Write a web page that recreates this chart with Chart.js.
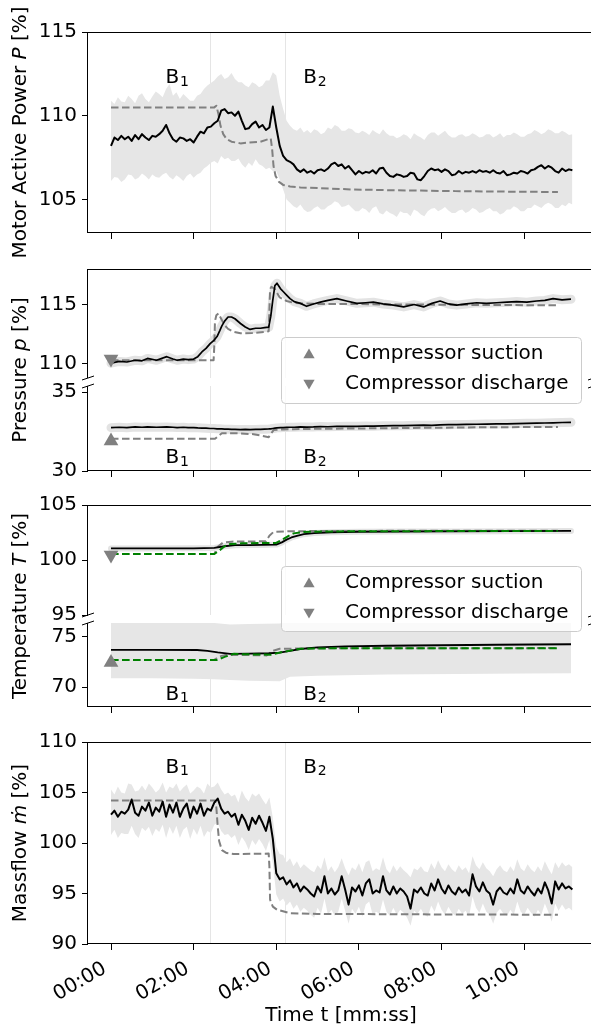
<!DOCTYPE html>
<html>
<head>
<meta charset="utf-8">
<title>Compressor step response</title>
<script src="https://cdn.jsdelivr.net/npm/chart.js@4.4.0/dist/chart.umd.min.js"></script>
<style>
  html, body { margin: 0; padding: 0; background: #fff; overflow: hidden; }
  #figure { position: relative; width: 600px; height: 1029px; background: #fff; }
  #figure canvas { position: absolute; left: 0; top: 0; }
</style>
</head>
<body>
<div id="figure"></div>
<script>
const FONT = '"DejaVu Sans", "Liberation Sans", sans-serif';
const PAGE_W = 600, PAGE_H = 1029;

// shared time axis (seconds)
const xMin = -33.4, xMax = 701.4;
const timeTicks = [0, 120, 240, 360, 480, 600];
const phaseBounds = [144, 252];
const phaseNames = ['1', '2'];
const phaseLabelT = [79, 279];

// motor active power, measured every 5 s
const powerStep = 5;
const powerMeas = [
  108.2, 108.7, 108.55, 108.8, 108.6, 108.75, 108.5, 108.85, 108.6, 108.9,
  108.7, 108.55, 108.8, 108.75, 108.9, 109.1, 109.45, 108.95, 108.6, 108.45,
  108.7, 108.65, 108.5, 108.6, 108.4, 108.75, 109.05, 108.95, 109.3, 109.35,
  109.55, 109.7, 110.3, 110.4, 110.15, 110.2, 110.0, 110.25, 109.7, 109.2,
  109.25, 109.5, 109.65, 109.3, 109.45, 109.15, 109.3, 110.55, 109.3, 108.2,
  107.6, 107.35, 107.25, 107.1, 106.8, 106.65, 106.8, 106.6, 106.7, 106.55,
  106.75, 106.8, 106.7, 106.85, 107.1, 107.2, 107.0, 107.1, 106.85, 107.0,
  106.75, 106.5, 106.7, 106.55, 106.65, 106.6, 106.75, 106.55, 106.85, 106.9,
  106.6, 106.4, 106.35, 106.5, 106.45, 106.35, 106.4, 106.6, 106.55, 106.2,
  106.15, 106.4, 106.7, 106.85, 106.75, 106.8, 106.65, 106.8, 106.7, 106.45,
  106.5, 106.7, 106.55, 106.65, 106.6, 106.7, 106.6, 106.75, 106.65, 106.7,
  106.6, 106.75, 106.6, 106.55, 106.7, 106.45, 106.5, 106.6, 106.55, 106.7,
  106.65, 106.55, 106.75, 106.8, 106.95, 107.05, 106.85, 107.0, 106.9, 106.7,
  106.6, 106.85, 106.7, 106.8, 106.75
];
// spread of the power signal, same 5 s grid
const powerBandHi = [
  110.9, 110.7, 111.1, 110.85, 110.8, 111.2, 111.0, 110.75, 111.2, 111.35,
  111.0, 110.8, 111.15, 111.45, 111.3, 111.1, 111.6, 111.9, 111.2, 111.4,
  111.0, 111.3, 111.1, 110.9, 110.9, 111.2, 111.3, 111.6, 111.8, 111.95,
  112.1, 112.35, 112.5, 112.2, 112.3, 112.55, 112.2, 112.0, 112.0, 111.8,
  111.7, 112.0, 111.9, 111.7, 111.8, 112.1, 112.1, 112.6, 112.4, 111.2,
  110.4, 109.7, 109.4, 109.2, 109.1, 109.3, 109.0, 109.15, 108.95, 109.2,
  109.1, 108.9, 109.0, 109.3, 109.2, 109.45, 109.35, 109.1, 109.1, 109.25,
  109.2, 109.0, 108.95, 109.1, 109.0, 108.85, 109.15, 109.0, 108.9, 109.2,
  108.95, 108.8, 108.8, 108.65, 108.75, 108.9, 108.8, 108.6, 108.95, 108.8,
  108.7, 108.55, 108.85, 109.0, 109.0, 108.8, 108.95, 109.1, 108.85, 108.7,
  108.7, 108.85, 108.9, 108.75, 108.8, 108.95, 108.85, 108.7, 108.75, 108.9,
  108.9, 108.7, 108.8, 108.95, 108.7, 108.85, 108.85, 109.0, 108.9, 108.75,
  108.75, 108.9, 108.95, 109.15, 109.05, 108.9, 109.0, 109.2, 109.1, 108.95,
  108.95, 109.1, 109.0, 108.85, 108.9
];
const powerBandLo = [
  106.1, 106.35, 106.3, 106.05, 106.2, 106.5, 106.45, 106.2, 106.3, 106.55,
  106.4, 106.2, 106.5, 106.35, 106.3, 106.5, 106.6, 106.35, 106.2, 106.45,
  106.3, 106.1, 106.4, 106.55, 106.3, 106.5, 106.6, 106.85, 107.0, 107.2,
  107.3, 107.15, 107.6, 107.4, 107.5, 107.3, 107.3, 107.45, 107.1, 106.9,
  107.2, 107.0, 107.4, 107.1, 107.0, 106.8, 106.9, 106.7, 106.7, 106.2,
  105.6, 105.0, 104.8, 104.6, 104.5, 104.7, 104.4, 104.25, 104.3, 104.5,
  104.6, 104.4, 104.4, 104.6, 104.7, 104.9, 104.8, 104.55, 104.6, 104.7,
  104.5, 104.3, 104.3, 104.5, 104.4, 104.2, 104.5, 104.6, 104.2, 104.1,
  104.35, 104.2, 104.1, 103.95, 104.3, 104.2, 104.2, 104.0, 104.4, 104.3,
  104.1, 104.0, 104.3, 104.45, 104.5, 104.3, 104.4, 104.55, 104.35, 104.2,
  104.2, 104.35, 104.4, 104.2, 104.3, 104.5, 104.4, 104.2, 104.25, 104.4,
  104.5, 104.3, 104.3, 104.1, 104.2, 104.4, 104.4, 104.6, 104.5, 104.3,
  104.3, 104.5, 104.5, 104.7, 104.6, 104.5, 104.7, 104.8, 104.7, 104.5,
  104.5, 104.7, 104.6, 104.8, 104.7
];
const powerModel = [
  [0, 110.5], [150, 110.5], [153, 110.6], [156, 110.1], [159, 109.4], [163, 108.9],
  [168, 108.6], [175, 108.45], [188, 108.35], [200, 108.4], [217, 108.45], [232, 108.65],
  [234, 108.0], [236, 107.0], [239, 106.4], [244, 106.05], [250, 105.87], [260, 105.78],
  [275, 105.72], [300, 105.68], [350, 105.6], [400, 105.56], [450, 105.53], [500, 105.5],
  [550, 105.48], [600, 105.46], [649, 105.45]
];

// compressor pressures
const presTime = [
  0, 12, 23, 35, 45, 53, 66, 81, 90, 96,
  105, 112, 120, 126, 132, 138, 144, 149, 154, 158,
  161, 165, 170, 175, 180, 188, 195, 202, 210, 217,
  223, 229, 232, 235, 238, 241, 246, 250, 255, 260,
  266, 275, 284, 294, 304, 315, 328, 342, 357, 370,
  381, 395, 410, 425, 440, 454, 466, 478, 490, 502,
  516, 531, 545, 560, 575, 589, 604, 618, 630, 642,
  655, 668
];
const presDischarge = [
  110.05, 110.2, 110.15, 110.3, 110.25, 110.45, 110.3, 110.6, 110.4, 110.3,
  110.4, 110.35, 110.4, 110.6, 111.0, 111.3, 111.7, 111.95, 112.3, 112.8,
  113.2, 113.6, 113.95, 113.95, 113.8, 113.4, 113.1, 112.9, 113.0, 113.0,
  113.05, 113.1, 114.0, 115.4, 116.6, 116.8, 116.35, 116.1, 115.8, 115.5,
  115.25, 115.1, 114.85, 115.05, 115.2, 115.35, 115.5, 115.3, 115.1, 115.15,
  115.2, 115.05, 114.95, 114.8, 115.0, 114.8, 115.1, 115.3, 115.05, 114.95,
  115.05, 115.15, 115.1, 115.15, 115.2, 115.25, 115.2, 115.3, 115.35, 115.5,
  115.4, 115.45
];
const presSuction = [
  32.75, 32.78, 32.75, 32.8, 32.78, 32.8, 32.78, 32.8, 32.78, 32.76,
  32.78, 32.75, 32.76, 32.74, 32.73, 32.72, 32.7, 32.7, 32.68, 32.68,
  32.67, 32.66, 32.66, 32.65, 32.64, 32.63, 32.64, 32.63, 32.64, 32.65,
  32.66, 32.67, 32.68, 32.7, 32.72, 32.74, 32.75, 32.76, 32.77, 32.78,
  32.78, 32.8, 32.79, 32.8, 32.82, 32.81, 32.83, 32.84, 32.84, 32.86,
  32.85, 32.87, 32.88, 32.88, 32.9, 32.91, 32.9, 32.93, 32.94, 32.95,
  32.96, 32.97, 32.98, 32.99, 33.0, 33.01, 33.03, 33.04, 33.05, 33.06,
  33.08, 33.09
];
const presDischargeModel = [
  [0, 110.3], [149, 110.3], [150, 111.5], [151, 113.6], [153, 114.1], [156, 114.25],
  [160, 113.8], [165, 113.25], [170, 112.95], [178, 112.7], [188, 112.57], [205, 112.6],
  [226, 112.7], [229, 112.75], [230, 114.5], [231, 116.3], [233, 116.5], [238, 116.3],
  [245, 115.6], [255, 115.3], [265, 115.15], [275, 115.1], [300, 115.05], [350, 115.05],
  [400, 115.0], [450, 115.0], [500, 114.98], [550, 114.96], [600, 114.95], [649, 114.94]
];
const presSuctionModel = [
  [0, 32.05], [151, 32.05], [161, 32.4], [180, 32.4], [207, 32.34], [229, 32.15],
  [236, 32.6], [250, 32.64], [275, 32.67], [350, 32.7], [450, 32.74], [550, 32.78], [649, 32.8]
];
const presStart = { discharge: 110.4, suction: 31.9 };

// compressor temperatures
const tempDischarge = [
  [0, 101.05], [60, 101.05], [120, 101.06], [150, 101.1], [165, 101.25], [180, 101.35],
  [200, 101.36], [220, 101.37], [240, 101.4], [248, 101.6], [255, 101.85], [262, 102.05],
  [270, 102.2], [280, 102.35], [295, 102.45], [320, 102.52], [360, 102.56], [420, 102.58],
  [500, 102.6], [580, 102.62], [668, 102.64]
];
const tempDischargeModelA = [
  [0, 100.55], [150, 100.55], [155, 101.2], [163, 101.6], [175, 101.67], [225, 101.7],
  [230, 102.2], [236, 102.55], [260, 102.62], [400, 102.65], [649, 102.66]
];
const tempDischargeModelB = [
  [0, 100.55], [150, 100.55], [158, 100.9], [165, 101.25], [173, 101.45], [190, 101.52],
  [240, 101.55], [250, 101.9], [258, 102.2], [265, 102.42], [280, 102.55], [320, 102.6],
  [400, 102.62], [649, 102.64]
];
const tempSuction = [
  [0, 73.69], [60, 73.69], [125, 73.68], [140, 73.6], [155, 73.45], [173, 73.3],
  [200, 73.32], [230, 73.36], [245, 73.42], [260, 73.6], [275, 73.78], [300, 73.95],
  [340, 74.05], [400, 74.1], [480, 74.15], [560, 74.2], [668, 74.25]
];
const tempSuctionModelA = [
  [0, 72.7], [150, 72.7], [158, 73.05], [166, 73.2], [200, 73.18], [226, 73.15],
  [235, 73.6], [245, 73.8], [300, 73.85], [649, 73.87]
];
const tempSuctionModelB = [
  [0, 72.7], [154, 72.7], [165, 73.0], [178, 73.3], [200, 73.25], [232, 73.22],
  [250, 73.5], [275, 73.8], [320, 73.85], [649, 73.85]
];
const tempBandTime = [0, 60, 120, 150, 173, 200, 245, 260, 300, 400, 500, 600, 668];
const tempBandHi = [76.55, 76.55, 76.5, 76.35, 76.2, 76.25, 76.3, 76.5, 76.8, 76.95, 77.0, 77.05, 77.1];
const tempBandLo = [70.9, 70.9, 70.85, 70.8, 70.72, 70.65, 70.6, 71.05, 71.15, 71.25, 71.3, 71.35, 71.38];
const tempStart = { discharge: 100.45, suction: 72.45 };

// mass flow, measured every 5 s
const massStep = 5;
const massMeas = [
  102.8, 103.2, 102.6, 103.1, 102.9, 103.3, 104.3, 103.0, 102.7, 103.6,
  103.2, 104.0, 102.7, 103.5, 103.1, 104.1, 102.6, 103.8, 103.0, 104.0,
  102.6, 103.4, 103.9, 102.5, 103.6, 102.9, 103.9, 102.7, 103.4, 103.2,
  104.0, 104.4, 103.4, 102.9, 103.1, 102.6, 102.9, 101.8, 102.8, 102.2,
  101.3, 102.5, 101.9, 102.7, 102.0, 101.2, 102.6, 100.4, 97.0, 96.4,
  96.6, 95.9, 96.3, 95.6, 96.0, 95.2, 95.7, 95.4, 95.0, 94.7,
  95.7, 95.1, 96.7, 95.0, 95.5, 94.9, 95.3, 96.7, 95.4, 93.9,
  95.6, 95.2, 95.8, 94.8, 96.0, 96.4, 95.0, 95.3, 95.1, 96.7,
  95.3, 94.9, 95.7, 95.0, 95.5, 95.2, 94.7, 93.5, 95.4, 95.1,
  95.6, 95.0, 94.8, 96.0, 95.3, 96.4, 95.5, 95.0, 95.8, 95.2,
  94.9, 95.6, 95.1, 95.4, 94.8, 96.9, 95.7, 95.2, 96.1, 95.3,
  95.0, 93.9, 95.2, 95.6, 95.1, 94.9, 95.5, 95.0, 96.4, 95.3,
  95.0, 95.7, 95.2, 94.8, 95.5, 95.0, 96.1, 95.3, 94.0, 96.2,
  95.4, 96.0, 95.5, 95.7, 95.4
];
const massBandHi = [
  105.3, 104.8, 105.6, 105.0, 104.9, 105.9, 105.8, 105.1, 105.2, 105.7,
  105.2, 105.9, 105.5, 105.0, 105.3, 106.0, 105.0, 105.6, 105.4, 105.9,
  105.1, 105.5, 105.8, 104.9, 105.2, 105.6, 105.4, 104.9, 105.9, 105.5,
  105.6, 106.0, 105.3, 104.8, 105.0, 104.6, 104.8, 104.0, 105.2, 104.5,
  104.1, 104.9, 104.6, 104.9, 104.3, 103.8, 104.5, 102.5, 99.6, 98.9,
  98.8, 98.1, 98.5, 97.7, 98.2, 97.5, 97.9, 97.6, 97.3, 97.1,
  97.8, 97.4, 98.6, 97.2, 97.7, 97.1, 97.6, 98.5, 97.5, 96.8,
  97.6, 97.3, 98.0, 97.1, 98.1, 98.3, 97.2, 97.5, 97.3, 98.6,
  97.4, 97.0, 97.8, 97.2, 97.7, 97.3, 97.0, 96.6, 97.5, 97.3,
  97.7, 97.2, 97.1, 98.0, 97.4, 98.3, 97.6, 97.2, 97.9, 97.4,
  97.1, 97.8, 97.3, 97.6, 97.0, 98.7, 97.8, 97.4, 98.1, 97.5,
  97.2, 96.7, 97.4, 97.8, 97.3, 97.1, 97.7, 97.2, 98.4, 97.5,
  97.2, 97.9, 97.4, 97.1, 97.7, 97.2, 98.2, 97.5, 96.9, 98.1,
  97.5, 98.1, 97.7, 97.9, 97.6
];
const massBandLo = [
  100.8, 101.3, 100.5, 101.0, 100.9, 100.9, 101.7, 100.9, 100.5, 101.5,
  101.2, 101.6, 100.7, 101.4, 101.1, 101.8, 100.5, 101.6, 100.9, 101.7,
  100.5, 101.3, 101.6, 100.4, 101.4, 100.8, 101.7, 100.6, 101.2, 101.0,
  101.8, 102.0, 101.2, 100.8, 100.9, 100.5, 100.8, 99.8, 100.6, 100.1,
  99.3, 100.3, 99.8, 100.4, 99.9, 99.2, 100.3, 98.0, 94.9, 94.2,
  94.5, 93.8, 94.2, 93.5, 93.9, 93.2, 93.6, 93.3, 92.9, 92.6,
  93.6, 93.0, 94.5, 92.9, 93.4, 92.8, 93.2, 94.5, 93.3, 92.0,
  93.5, 93.0, 93.7, 92.7, 93.9, 94.2, 92.9, 93.2, 93.0, 94.4,
  93.2, 92.8, 93.6, 92.9, 93.4, 93.1, 92.6, 91.8, 93.3, 93.0,
  93.5, 92.9, 92.7, 93.8, 93.2, 94.2, 93.4, 92.9, 93.7, 93.1,
  92.8, 93.5, 93.0, 93.3, 92.7, 94.7, 93.6, 93.1, 94.0, 93.2,
  92.9, 92.0, 93.1, 93.5, 93.0, 92.8, 93.4, 92.9, 94.2, 93.2,
  92.9, 93.6, 93.1, 92.7, 93.4, 92.9, 94.0, 93.2, 92.2, 94.0,
  93.3, 93.9, 93.4, 93.6, 93.3
];
const massModel = [
  [0, 104.2], [151, 104.2], [153, 103.5], [155, 101.6], [157, 100.2], [161, 99.3],
  [168, 99.0], [178, 98.9], [229, 98.95], [230, 97.7], [231, 94.4], [235, 93.7],
  [241, 93.4], [260, 93.05], [300, 92.98], [400, 92.95], [500, 92.92], [649, 92.9]
];

// ---- dataset helpers ----
const sampled = (step, vals) => vals.map((v, i) => ({ x: i * step, y: v }));
const zip = (ts, vs) => ts.map((t, i) => ({ x: t, y: vs[i] }));
const pts = arr => arr.map(([x, y]) => ({ x, y }));

const GREY = '#808080';
const solid = (data, color, width, order) => ({
  data, borderColor: color, borderWidth: width, pointRadius: 0, fill: false,
  borderJoinStyle: 'round', order
});
const dashed = (data, color, order) => Object.assign(solid(data, color, 2, order), { borderDash: [7.5, 3.5] });
const halo = (data, width) => Object.assign(solid(data, '#e3e3e3', width, 9), { borderCapStyle: 'round' });
const band = (hi, lo) => [
  { data: hi, borderWidth: 0, pointRadius: 0, backgroundColor: '#e6e6e6', fill: '+1', order: 10 },
  { data: lo, borderWidth: 0, pointRadius: 0, fill: false, order: 10 }
];
const marker = (v, down) => ({
  data: [{ x: 0, y: v }], showLine: false, pointStyle: 'triangle', pointRotation: down ? 180 : 0,
  pointRadius: 8.5, pointBackgroundColor: GREY, pointBorderColor: GREY, pointBorderWidth: 0, order: 0
});

const mmss = v => {
  const m = Math.floor(v / 60), s = v % 60;
  return String(m).padStart(2, '0') + ':' + String(s).padStart(2, '0');
};

// ---- panel layout (page pixels) ----
const panels = [
  {
    key: 'power', top: 32, bottom: 233, yMin: 103, yMax: 115, yTicks: [105, 110, 115],
    spineTop: true, spineBottom: true, xAxisH: 10, xMarks: true, xLabels: false, labelY: 111.95,
    title: [['Motor Active Power ', false], ['P', true], [' [%]', false]], titleFrom: 'power',
    datasets: [
      ...band(sampled(powerStep, powerBandHi), sampled(powerStep, powerBandLo)),
      dashed(pts(powerModel), GREY, 3),
      solid(sampled(powerStep, powerMeas), '#000', 2, 2)
    ]
  },
  {
    key: 'presHi', top: 269, bottom: 378, yMin: 108.8, yMax: 118, yTicks: [110, 115],
    spineTop: true, spineBottom: false, breakBottom: true, xAxisH: 0, xMarks: false, xLabels: false,
    datasets: [
      halo(zip(presTime, presDischarge), 9),
      dashed(pts(presDischargeModel), GREY, 3),
      solid(zip(presTime, presDischarge), '#000', 1.7, 2),
      marker(presStart.discharge, true)
    ]
  },
  {
    key: 'presLo', top: 386, bottom: 471, yMin: 30, yMax: 35.4, yTicks: [30, 35],
    spineTop: false, spineBottom: true, breakTop: true, xAxisH: 10, xMarks: true, xLabels: false, labelY: 30.49,
    title: [['Pressure ', false], ['p', true], [' [%]', false]], titleFrom: 'presHi',
    legend: { top: 337, bottom: 403 },
    datasets: [
      halo(zip(presTime, presSuction), 9),
      dashed(pts(presSuctionModel), GREY, 3),
      solid(zip(presTime, presSuction), '#000', 1.7, 2),
      marker(presStart.suction, false)
    ]
  },
  {
    key: 'tempHi', top: 505, bottom: 615, yMin: 95, yMax: 105, yTicks: [95, 100, 105],
    spineTop: true, spineBottom: false, breakBottom: true, xAxisH: 0, xMarks: false, xLabels: false,
    datasets: [
      halo(pts(tempDischarge), 6),
      dashed(pts(tempDischargeModelA), GREY, 4),
      dashed(pts(tempDischargeModelB), '#008000', 1),
      solid(pts(tempDischarge), '#000', 1.8, 2),
      marker(tempStart.discharge, true)
    ]
  },
  {
    key: 'tempLo', top: 623, bottom: 707, yMin: 68.05, yMax: 76.35, yTicks: [70, 75],
    spineTop: false, spineBottom: true, breakTop: true, xAxisH: 10, xMarks: true, xLabels: false, labelY: 68.75,
    title: [['Temperature ', false], ['T', true], [' [%]', false]], titleFrom: 'tempHi',
    legend: { top: 566, bottom: 631 },
    datasets: [
      ...band(zip(tempBandTime, tempBandHi), zip(tempBandTime, tempBandLo)),
      dashed(pts(tempSuctionModelA), GREY, 4),
      dashed(pts(tempSuctionModelB), '#008000', 1),
      solid(pts(tempSuction), '#000', 1.8, 2),
      marker(tempStart.suction, false)
    ]
  },
  {
    key: 'mass', top: 742, bottom: 944, yMin: 90, yMax: 110, yTicks: [90, 95, 100, 105, 110],
    spineTop: true, spineBottom: true, xAxisH: 85, xMarks: true, xLabels: true, labelY: 106.96,
    title: [['Massflow ', false], ['\u1E41', true], [' [%]', false]], titleFrom: 'mass',
    datasets: [
      ...band(sampled(massStep, massBandHi), sampled(massStep, massBandLo)),
      dashed(pts(massModel), GREY, 3),
      solid(sampled(massStep, massMeas), '#000', 2, 2)
    ]
  }
];
const panelByKey = Object.fromEntries(panels.map(p => [p.key, p]));

function triangle(ctx, x, y, r, down) {
  const s = down ? -1 : 1;
  ctx.beginPath();
  ctx.moveTo(x, y - s * r);
  ctx.lineTo(x - r * 0.866, y + s * r * 0.5);
  ctx.lineTo(x + r * 0.866, y + s * r * 0.5);
  ctx.closePath();
  ctx.fill();
}

// spines, axis breaks, phase markers, legend and the y title of each panel
function decor(p) {
  return {
    id: 'decor',
    beforeDatasetsDraw(chart) {
      const { ctx, chartArea: a, scales: { x } } = chart;
      ctx.save();
      ctx.strokeStyle = 'rgba(0,0,0,0.1)';
      ctx.lineWidth = 1;
      phaseBounds.forEach(t => {
        const px = Math.round(x.getPixelForValue(t)) + 0.5;
        ctx.beginPath();
        ctx.moveTo(px, a.top);
        ctx.lineTo(px, a.bottom);
        ctx.stroke();
      });
      ctx.restore();
    },
    afterDraw(chart) {
      const { ctx, chartArea: a, scales: { x, y } } = chart;
      ctx.save();
      ctx.strokeStyle = '#000';
      ctx.lineWidth = 1;
      ctx.beginPath();
      ctx.moveTo(a.left - 0.5, a.top);
      ctx.lineTo(a.left - 0.5, a.bottom);
      ctx.moveTo(a.right + 0.5, a.top);
      ctx.lineTo(a.right + 0.5, a.bottom);
      if (p.spineTop) { ctx.moveTo(a.left - 1, a.top + 0.5); ctx.lineTo(a.right + 1, a.top + 0.5); }
      if (p.spineBottom) { ctx.moveTo(a.left - 1, a.bottom - 0.5); ctx.lineTo(a.right + 1, a.bottom - 0.5); }
      ctx.stroke();

      // diagonal break marks where the axis is split
      const cuts = [];
      if (p.breakBottom) cuts.push(a.bottom);
      if (p.breakTop) cuts.push(a.top);
      cuts.forEach(cy => {
        [a.left, a.right].forEach(cx => {
          ctx.beginPath();
          ctx.moveTo(cx - 6, cy + 2);
          ctx.lineTo(cx + 6, cy - 2);
          ctx.stroke();
        });
      });

      // operating point labels B1 / B2
      if (p.labelY !== undefined) {
        ctx.fillStyle = '#000';
        ctx.textAlign = 'left';
        ctx.textBaseline = 'alphabetic';
        phaseLabelT.forEach((t, i) => {
          const px = x.getPixelForValue(t), py = y.getPixelForValue(p.labelY);
          ctx.font = '20px ' + FONT;
          ctx.fillText('B', px, py);
          const w = ctx.measureText('B').width;
          ctx.font = '14px ' + FONT;
          ctx.fillText(phaseNames[i], px + w + 1, py + 2.5);
        });
      }

      // legend box
      if (p.legend) {
        const L = p.legend;
        ctx.beginPath();
        ctx.roundRect(281.5, L.top + 0.5, 300, L.bottom - L.top, 4);
        ctx.fillStyle = 'rgba(255,255,255,0.8)';
        ctx.fill();
        ctx.strokeStyle = '#cccccc';
        ctx.stroke();
        const rows = [['Compressor suction', false], ['Compressor discharge', true]];
        rows.forEach(([label, down], i) => {
          const ry = L.top + 17 + i * 30;
          ctx.fillStyle = GREY;
          triangle(ctx, 309, ry + (down ? -1 : 1), 6.5, down);
          ctx.fillStyle = '#000';
          ctx.font = '20px ' + FONT;
          ctx.textAlign = 'left';
          ctx.textBaseline = 'middle';
          ctx.fillText(label, 345, ry);
        });
      }

      // y title spanning the panel (both halves for split axes)
      if (p.title) {
        const cy = (panelByKey[p.titleFrom].top + p.bottom) / 2;
        ctx.translate(26, cy);
        ctx.rotate(-Math.PI / 2);
        ctx.fillStyle = '#000';
        ctx.textBaseline = 'alphabetic';
        ctx.textAlign = 'left';
        const fonts = p.title.map(([, it]) => (it ? 'italic ' : '') + '20px ' + FONT);
        const widths = p.title.map(([txt], i) => { ctx.font = fonts[i]; return ctx.measureText(txt).width; });
        let tx = -widths.reduce((s, w) => s + w, 0) / 2;
        p.title.forEach(([txt], i) => {
          ctx.font = fonts[i];
          ctx.fillText(txt, tx, 0);
          tx += widths[i];
        });
      }
      ctx.restore();
    }
  };
}

function config(p) {
  const font = { family: FONT, size: 20 };
  return {
    type: 'line',
    data: { datasets: p.datasets },
    options: {
      responsive: false,
      animation: false,
      devicePixelRatio: 1,
      events: [],
      layout: {
        autoPadding: false,
        padding: { left: 0, right: 6, top: p.top, bottom: PAGE_H - p.bottom - p.xAxisH }
      },
      plugins: { legend: { display: false }, tooltip: { enabled: false } },
      scales: {
        x: {
          type: 'linear', min: xMin, max: xMax,
          afterBuildTicks: s => { s.ticks = timeTicks.map(v => ({ value: v })); },
          afterFit: s => { s.height = p.xAxisH; },
          border: { display: false },
          grid: { display: p.xMarks, drawOnChartArea: false, tickLength: 6, color: '#000', tickColor: '#000', tickWidth: 1 },
          ticks: {
            display: p.xLabels, autoSkip: false, minRotation: 30, maxRotation: 30,
            padding: 7, labelOffset: -6, color: '#000', font, callback: v => mmss(v)
          },
          title: { display: p.xLabels, text: 'Time t [mm:ss]', color: '#000', font, padding: { top: 0, bottom: 1 } }
        },
        y: {
          type: 'linear', min: p.yMin, max: p.yMax,
          afterBuildTicks: s => { s.ticks = p.yTicks.map(v => ({ value: v })); },
          afterFit: s => { s.width = 88; },
          border: { display: false },
          grid: { drawOnChartArea: false, tickLength: 6, color: '#000', tickColor: '#000', tickWidth: 1 },
          ticks: { color: '#000', font, padding: 5, callback: v => String(v) }
        }
      }
    },
    plugins: [decor(p)]
  };
}

const fig = document.getElementById('figure');
panels.forEach(p => {
  const cv = document.createElement('canvas');
  cv.width = PAGE_W;
  cv.height = PAGE_H;
  fig.appendChild(cv);
  new Chart(cv, config(p));
});
</script>
</body>
</html>
